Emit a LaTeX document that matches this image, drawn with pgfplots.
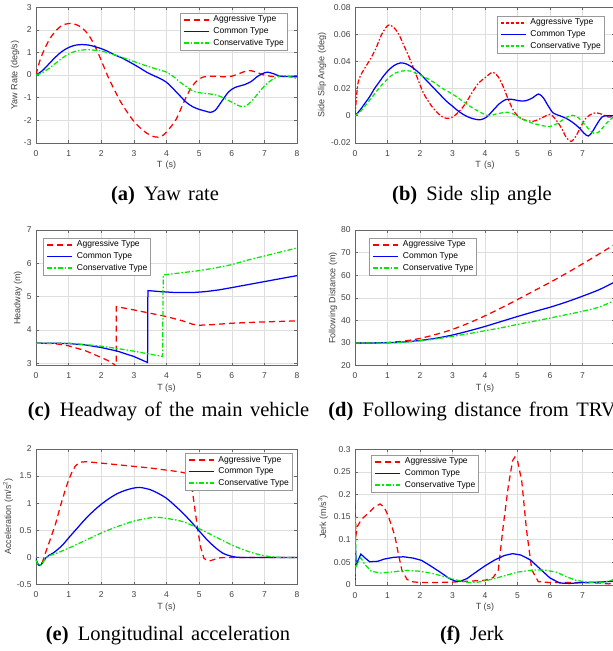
\documentclass[border=0pt]{standalone}
\usepackage{pgfplots}
\pgfplotsset{compat=1.18}
\usepackage{fontspec}
\setmainfont{Liberation Sans}
\newfontfamily\capfont[WordSpace=1.45]{Liberation Serif}
\definecolor{aggc}{RGB}{255,0,0}
\definecolor{comc}{RGB}{0,0,255}
\definecolor{conc}{RGB}{0,235,0}
\tikzset{
 agg/.style={draw=aggc, color=aggc, line width=1.25pt, dash pattern=on 6pt off 4pt},
 aggdd/.style={draw=aggc, color=aggc, line width=1.25pt, dash pattern=on 5pt off 2pt on 1.5pt off 2pt},
 com/.style={draw=comc, color=comc, line width=1.25pt, solid},
 con/.style={draw=conc, color=conc, line width=1.25pt, dash pattern=on 5pt off 2pt on 1.5pt off 2pt},
 condash/.style={draw=conc, color=conc, line width=1.25pt, dash pattern=on 4pt off 2.5pt},
}
\pgfplotsset{
 pagg/.style={agg, legend image code/.code={\draw[agg, line width=1.7pt] (0pt,0pt) -- (25pt,0pt);}},
 paggdd/.style={aggdd, legend image code/.code={\draw[draw=aggc, line width=1.7pt, dash pattern=on 3pt off 2pt] (0pt,0pt) -- (25pt,0pt);}},
 pcom/.style={com, legend image code/.code={\draw[com, line width=1.7pt] (0pt,0pt) -- (25pt,0pt);}},
 pcon/.style={con, legend image code/.code={\draw[con, line width=1.7pt] (0pt,0pt) -- (25pt,0pt);}},
 pcondash/.style={condash, legend image code/.code={\draw[draw=conc, line width=1.7pt, dash pattern=on 3pt off 2pt] (0pt,0pt) -- (25pt,0pt);}},
 base/.style={
  scale only axis, height=135.5pt,
  xmin=0, xmax=8, scaled y ticks=false, scaled x ticks=false,
  axis line style={draw=black!60, line width=0.45pt},
  every tick/.style={draw=black!60, line width=0.45pt},
  tick align=inside, major tick length=2.6pt,
  xmajorgrids, ymajorgrids, major grid style={draw=black!13, line width=0.4pt},
  ticklabel style={font=\fontsize{8.5}{10}\selectfont, text=black!75},
  xticklabel style={anchor=north, inner sep=0pt, yshift=-7.3pt},
  yticklabel style={anchor=east, inner sep=0pt, xshift=-4.3pt},
  label style={font=\fontsize{9}{11}\selectfont, text=black!75},
  xlabel style={at={(axis description cs:0.5,-0.165)}, anchor=center},
  legend cell align=left,
  legend style={draw=black!40, fill=white,
     font=\fontsize{8.5}{10}\selectfont,
     inner xsep=3pt, inner ysep=2.5pt, row sep=3.5pt, column sep=4pt,
     nodes={inner sep=0pt, text height=6.3pt, text depth=1.9pt}},
 },
 lft/.style={base, width=261pt, xtick={0,...,8}, xticklabels={0,1,2,3,4,5,6,7,8}},
 rgt/.style={base, width=260pt, xtick={0,...,7}, xticklabels={0,1,2,3,4,5,6,7}},
}
\begin{document}
\begin{tikzpicture}
\path[use as bounding box] (0pt,0pt) rectangle (613pt,-651pt);
% ---------------- (a)
\begin{axis}[lft, at={(36pt,-7.3pt)}, anchor=north west,
  ymin=-3, ymax=3, ytick={-3,-2,-1,0,1,2,3}, yticklabels={-3,-2,-1,0,1,2,3},
  xlabel={T\hspace{0.35em}(s)}, ylabel={Yaw Rate (deg/s)},
  ylabel style={at={(axis description cs:-0.0805,0.5)}, anchor=center},
  legend style={at={(axis description cs:0.9617,0.958)}, anchor=north east}]
\addplot[pagg, smooth, tension=0.5] coordinates {(0,0)(0.1,0.55)(0.2,0.95)(0.4,1.55)(0.6,1.95)(0.8,2.2)(1.0,2.28)(1.2,2.25)(1.4,2.1)(1.6,1.8)(1.8,1.3)(2.0,0.65)(2.2,-0.05)(2.4,-0.65)(2.6,-1.2)(2.8,-1.65)(3.0,-2.05)(3.2,-2.35)(3.4,-2.58)(3.6,-2.72)(3.75,-2.75)(3.9,-2.66)(4.1,-2.35)(4.3,-1.95)(4.5,-1.3)(4.7,-0.7)(4.9,-0.3)(5.1,-0.1)(5.4,-0.05)(5.8,-0.08)(6.0,-0.05)(6.2,0.05)(6.5,0.2)(6.7,0.15)(7.0,0.0)(7.3,-0.07)(7.6,-0.06)(8.0,-0.05)};
\addplot[pcom, smooth, tension=0.5] coordinates {(0,0)(0.2,0.2)(0.4,0.5)(0.6,0.8)(0.8,1.05)(1.0,1.22)(1.2,1.32)(1.4,1.35)(1.6,1.33)(1.8,1.26)(2.0,1.17)(2.2,1.05)(2.4,0.9)(2.6,0.78)(2.8,0.63)(3.0,0.47)(3.2,0.3)(3.4,0.12)(3.6,-0.02)(3.8,-0.15)(4.0,-0.32)(4.2,-0.6)(4.4,-0.9)(4.6,-1.2)(4.8,-1.4)(5.0,-1.52)(5.2,-1.6)(5.35,-1.65)(5.5,-1.55)(5.7,-1.15)(5.9,-0.75)(6.1,-0.55)(6.4,-0.42)(6.6,-0.28)(6.8,-0.05)(7.0,0.1)(7.1,0.13)(7.3,0.05)(7.5,-0.05)(8.0,-0.08)};
\addplot[pcon, smooth, tension=0.5] coordinates {(0,0)(0.2,0.1)(0.4,0.3)(0.6,0.52)(0.8,0.75)(1.0,0.93)(1.2,1.05)(1.5,1.12)(1.8,1.1)(2.0,1.07)(2.4,0.9)(2.8,0.7)(3.0,0.6)(3.4,0.4)(3.8,0.22)(4.0,0.13)(4.2,-0.05)(4.4,-0.3)(4.6,-0.5)(4.8,-0.7)(5.0,-0.78)(5.4,-0.85)(5.6,-0.92)(5.8,-1.05)(6.0,-1.2)(6.2,-1.35)(6.35,-1.4)(6.5,-1.3)(6.7,-1.0)(6.9,-0.65)(7.1,-0.35)(7.3,-0.15)(7.5,-0.02)(7.7,-0.05)(8.0,-0.15)};
\legend{Aggressive Type, Common Type, Conservative Type}
\end{axis}
% ---------------- (b)
\begin{axis}[rgt, at={(355pt,-7.3pt)}, anchor=north west,
  ymin=-0.02, ymax=0.08, ytick={-0.02,0,0.02,0.04,0.06,0.08}, yticklabels={-0.02,0,0.02,0.04,0.06,0.08},
  xlabel={T\hspace{0.35em}(s)}, ylabel={Side Slip Angle (deg)},
  ylabel style={at={(axis description cs:-0.127,0.5)}, anchor=center},
  legend style={at={(axis description cs:0.9577,0.936)}, anchor=north east}]
\addplot[paggdd, smooth, tension=0.5] coordinates {(0,0)(0.05,0.015)(0.1,0.025)(0.2,0.031)(0.35,0.037)(0.5,0.043)(0.65,0.05)(0.8,0.059)(0.95,0.065)(1.05,0.067)(1.2,0.065)(1.35,0.06)(1.5,0.052)(1.65,0.044)(1.8,0.035)(1.95,0.026)(2.1,0.017)(2.3,0.009)(2.5,0.003)(2.7,-0.001)(2.85,-0.002)(3.0,-0.001)(3.2,0.003)(3.4,0.009)(3.6,0.017)(3.8,0.024)(4.0,0.028)(4.15,0.031)(4.25,0.032)(4.4,0.029)(4.55,0.022)(4.7,0.013)(4.85,0.005)(5.0,0.0)(5.2,-0.003)(5.5,-0.004)(5.8,-0.001)(6.0,0.001)(6.15,-0.002)(6.35,-0.009)(6.5,-0.016)(6.65,-0.019)(6.8,-0.015)(6.95,-0.008)(7.1,-0.002)(7.3,0.0015)(7.45,0.002)(7.6,0.001)(7.8,-0.001)(8.0,0)};
\addplot[pcom, smooth, tension=0.5] coordinates {(0,0)(0.15,0.004)(0.3,0.009)(0.45,0.014)(0.6,0.02)(0.75,0.025)(0.9,0.03)(1.05,0.034)(1.2,0.037)(1.4,0.039)(1.6,0.038)(1.8,0.035)(2.0,0.031)(2.2,0.026)(2.4,0.021)(2.6,0.016)(2.8,0.011)(3.0,0.007)(3.2,0.003)(3.4,0.0)(3.6,-0.002)(3.85,-0.003)(4.05,-0.001)(4.25,0.004)(4.45,0.009)(4.65,0.012)(4.85,0.012)(5.05,0.011)(5.25,0.011)(5.45,0.013)(5.65,0.016)(5.8,0.013)(5.95,0.007)(6.1,0.002)(6.3,0.0)(6.5,-0.002)(6.7,-0.005)(6.9,-0.009)(7.05,-0.013)(7.18,-0.015)(7.3,-0.012)(7.45,-0.006)(7.6,-0.001)(7.75,0.0)(8.0,0.0)};
\addplot[pcondash, smooth, tension=0.5] coordinates {(0,0)(0.2,0.004)(0.4,0.01)(0.6,0.016)(0.8,0.022)(1.0,0.027)(1.2,0.031)(1.45,0.033)(1.7,0.033)(1.9,0.031)(2.1,0.029)(2.4,0.025)(2.7,0.02)(3.0,0.016)(3.3,0.011)(3.6,0.006)(3.9,0.002)(4.1,0.0)(4.3,0.001)(4.5,0.002)(4.7,0.0025)(4.9,0.001)(5.1,-0.002)(5.4,-0.005)(5.7,-0.007)(6.0,-0.008)(6.2,-0.006)(6.4,-0.003)(6.6,0.0)(6.75,0.0)(6.9,-0.002)(7.05,-0.006)(7.2,-0.01)(7.35,-0.013)(7.5,-0.012)(7.65,-0.008)(7.8,-0.004)(7.95,-0.001)(8.0,0.0)};
\legend{Aggressive Type, Common Type, Conservative Type}
\end{axis}
% ---------------- (c)
\begin{axis}[lft, at={(36pt,-230pt)}, anchor=north west,
  ymin=2.93, ymax=7, ytick={3,4,5,6,7}, yticklabels={3,4,5,6,7},
  xlabel={T (s)}, ylabel={Headway (m)},
  ylabel style={at={(axis description cs:-0.069,0.5)}, anchor=center},
  legend style={at={(axis description cs:0.0268,0.941)}, anchor=north west}]
\addplot[pagg] coordinates {(0,3.6)(0.5,3.59)(0.8,3.56)(1.0,3.52)(1.5,3.38)(2.0,3.17)(2.2,3.08)(2.4,2.96)(2.46,2.9)(2.46,4.7)(3.0,4.6)(3.5,4.5)(4.0,4.4)(4.5,4.27)(4.8,4.17)(5.0,4.14)(5.3,4.15)(6.0,4.2)(7.0,4.24)(8.0,4.27)};
\addplot[pcom] coordinates {(0,3.6)(0.5,3.6)(1.0,3.59)(1.5,3.55)(2.0,3.47)(2.5,3.36)(3.0,3.2)(3.42,3.02)(3.43,5.18)(3.8,5.15)(4.3,5.12)(4.8,5.12)(5.2,5.15)(5.6,5.2)(6.0,5.27)(6.5,5.36)(7.0,5.45)(7.5,5.54)(8.0,5.63)};
\addplot[pcon] coordinates {(0,3.6)(0.5,3.6)(1.0,3.6)(1.5,3.56)(2.0,3.51)(2.5,3.44)(3.0,3.36)(3.5,3.27)(3.88,3.2)(3.9,5.65)(4.5,5.72)(5.0,5.78)(5.5,5.86)(6.0,5.96)(6.5,6.1)(7.0,6.22)(7.5,6.34)(8.0,6.46)};
\legend{Aggressive Type, Common Type, Conservative Type}
\end{axis}
% ---------------- (d)
\begin{axis}[rgt, at={(355pt,-230pt)}, anchor=north west,
  ymin=20, ymax=80, ytick={20,30,40,50,60,70,80}, yticklabels={20,30,40,50,60,70,80},
  xlabel={T (s)}, ylabel={Following Distance (m)},
  ylabel style={at={(axis description cs:-0.0846,0.5)}, anchor=center},
  legend style={at={(axis description cs:0.0538,0.941)}, anchor=north west}]
\addplot[pagg, smooth, tension=0.5] coordinates {(0,30)(0.5,30)(1.0,30.2)(1.5,30.8)(2.0,32)(2.5,33.8)(3.0,36)(3.5,38.8)(4.0,42)(4.5,45.5)(5.0,49.2)(5.5,53)(6.0,56.8)(6.5,60.8)(7.0,65)(7.5,69.3)(8.0,73.7)};
\addplot[pcom, smooth, tension=0.5] coordinates {(0,30)(0.5,30)(1.0,30.1)(1.5,30.4)(2.0,31.1)(2.5,32.1)(3.0,33.5)(3.5,35.3)(4.0,37.3)(4.5,39.5)(5.0,41.7)(5.5,43.8)(6.0,45.8)(6.5,48.1)(7.0,50.7)(7.5,53.5)(7.9,56.3)(8.0,57)};
\addplot[pcon, smooth, tension=0.5] coordinates {(0,30)(0.5,30)(1.0,30.05)(1.5,30.3)(2.0,30.9)(2.5,31.8)(3.0,32.9)(3.5,34.1)(4.0,35.4)(4.5,36.7)(5.0,38.2)(5.5,39.6)(6.0,41)(6.5,42.5)(7.0,44)(7.5,45.8)(7.9,48.2)(8.0,48.9)};
\legend{Aggressive Type, Common Type, Conservative Type}
\end{axis}
% ---------------- (e)
\begin{axis}[lft, at={(36pt,-449pt)}, anchor=north west,
  ymin=-0.5, ymax=2, ytick={-0.5,0,0.5,1,1.5,2}, yticklabels={-0.5,0,0.5,1,1.5,2},
  xlabel={T (s)}, ylabel={Acceleration (m/s\textsuperscript{2})},
  ylabel style={at={(axis description cs:-0.107,0.5)}, anchor=center},
  legend style={at={(axis description cs:0.981,0.970)}, anchor=north east}]
\addplot[pagg] coordinates {(0,-0.05)(0.05,-0.12)(0.12,-0.15)(0.2,-0.08)(0.3,0.1)(0.43,0.32)(0.6,0.62)(0.75,0.95)(0.9,1.25)(1.0,1.43)(1.1,1.57)(1.2,1.68)(1.3,1.74)(1.4,1.76)(1.55,1.765)(2.0,1.74)(2.5,1.71)(3.0,1.68)(3.5,1.65)(4.0,1.61)(4.4,1.58)(4.62,1.55)(4.72,1.45)(4.8,1.2)(4.88,0.85)(4.96,0.5)(5.05,0.18)(5.15,-0.02)(5.3,-0.07)(5.45,-0.04)(5.6,-0.01)(5.8,0)(8.0,0)};
\addplot[pcom, smooth, tension=0.5] coordinates {(0,-0.02)(0.05,-0.12)(0.12,-0.15)(0.2,-0.1)(0.3,-0.01)(0.4,0.04)(0.55,0.09)(0.8,0.22)(1.0,0.36)(1.25,0.53)(1.5,0.7)(1.75,0.85)(2.0,0.98)(2.25,1.09)(2.5,1.18)(2.75,1.24)(3.0,1.28)(3.2,1.29)(3.5,1.25)(3.75,1.18)(4.0,1.09)(4.25,0.96)(4.5,0.82)(4.75,0.66)(5.0,0.49)(5.25,0.32)(5.5,0.18)(5.75,0.07)(6.0,0.02)(6.25,0.0)(7.0,0)(8.0,0)};
\addplot[pcon, smooth, tension=0.5] coordinates {(0,-0.05)(0.05,-0.12)(0.12,-0.15)(0.2,-0.1)(0.3,-0.01)(0.4,0.03)(0.6,0.07)(1.0,0.17)(1.5,0.31)(2.0,0.45)(2.5,0.57)(3.0,0.67)(3.5,0.73)(3.7,0.74)(4.0,0.72)(4.5,0.66)(5.0,0.53)(5.5,0.38)(6.0,0.23)(6.5,0.11)(7.0,0.03)(7.5,0.0)(8.0,0)};
\legend{Aggressive Type, Common Type, Conservative Type}
\end{axis}
% ---------------- (f)
\begin{axis}[rgt, at={(355pt,-449.3pt)}, anchor=north west,
  ymin=0, ymax=0.3, ytick={0,0.05,0.1,0.15,0.2,0.25,0.3}, yticklabels={0,0.05,0.1,0.15,0.2,0.25,0.3},
  xlabel={T (s)}, ylabel={Jerk (m/s\textsuperscript{3})},
  ylabel style={at={(axis description cs:-0.123,0.5)}, anchor=center},
  legend style={at={(axis description cs:0.0615,0.958)}, anchor=north west}]
\addplot[pagg] coordinates {(0,0.18)(0.03,0.11)(0.08,0.13)(0.2,0.145)(0.4,0.158)(0.6,0.172)(0.77,0.179)(0.9,0.172)(1.03,0.151)(1.13,0.13)(1.23,0.107)(1.33,0.07)(1.44,0.033)(1.6,0.012)(1.74,0.007)(2.0,0.005)(2.5,0.005)(3.0,0.006)(3.5,0.008)(4.0,0.01)(4.25,0.016)(4.41,0.033)(4.56,0.13)(4.72,0.22)(4.85,0.275)(4.92,0.283)(5.0,0.275)(5.13,0.23)(5.28,0.12)(5.44,0.033)(5.64,0.007)(6.0,0.005)(6.5,0.005)(7.0,0.005)(7.5,0.004)(7.8,0.002)(8.0,0.005)};
\addplot[pcom] coordinates {(0,0.0)(0.01,0.09)(0.04,0.045)(0.1,0.055)(0.18,0.068)(0.3,0.06)(0.45,0.051)(0.7,0.052)(0.9,0.057)(1.2,0.061)(1.5,0.062)(1.8,0.059)(2.05,0.054)(2.3,0.043)(2.6,0.029)(2.9,0.014)(3.1,0.008)(3.25,0.008)(3.45,0.014)(3.7,0.027)(4.0,0.042)(4.3,0.055)(4.6,0.065)(4.85,0.069)(5.1,0.066)(5.4,0.055)(5.7,0.035)(6.0,0.015)(6.3,0.004)(6.6,0.003)(7.0,0.005)(7.5,0.006)(8.0,0.008)};
\addplot[pcon] coordinates {(0,0.0)(0.01,0.15)(0.03,0.04)(0.1,0.05)(0.18,0.06)(0.3,0.045)(0.5,0.03)(0.8,0.026)(1.2,0.029)(1.6,0.032)(2.0,0.03)(2.4,0.025)(2.8,0.017)(3.1,0.011)(3.5,0.005)(3.8,0.006)(4.2,0.012)(4.6,0.02)(5.0,0.028)(5.5,0.033)(5.8,0.033)(6.2,0.028)(6.5,0.018)(6.8,0.01)(7.2,0.005)(7.6,0.005)(7.9,0.01)(8.0,0.015)};
\legend{Aggressive Type, Common Type, Conservative Type}
\end{axis}
% ---------------- captions
\begin{scope}[every node/.style={anchor=base, inner sep=0pt, font=\capfont\fontsize{20.5}{24}\selectfont}]
\node at (165pt,-200pt) {\textbf{(a)}\hspace{0.45em}Yaw rate};
\node at (472pt,-200pt) {\textbf{(b)}\hspace{0.45em}Side slip angle};
\node at (168.5pt,-416pt) {\textbf{(c)}\hspace{0.45em}Headway of the main vehicle};
\node at (472pt,-416pt) {\textbf{(d)}\hspace{0.45em}Following distance from TRV};
\node at (168pt,-640pt) {\textbf{(e)}\hspace{0.45em}Longitudinal acceleration};
\node at (472pt,-640pt) {\textbf{(f)}\hspace{0.45em}Jerk};
\end{scope}
\end{tikzpicture}
\end{document}
